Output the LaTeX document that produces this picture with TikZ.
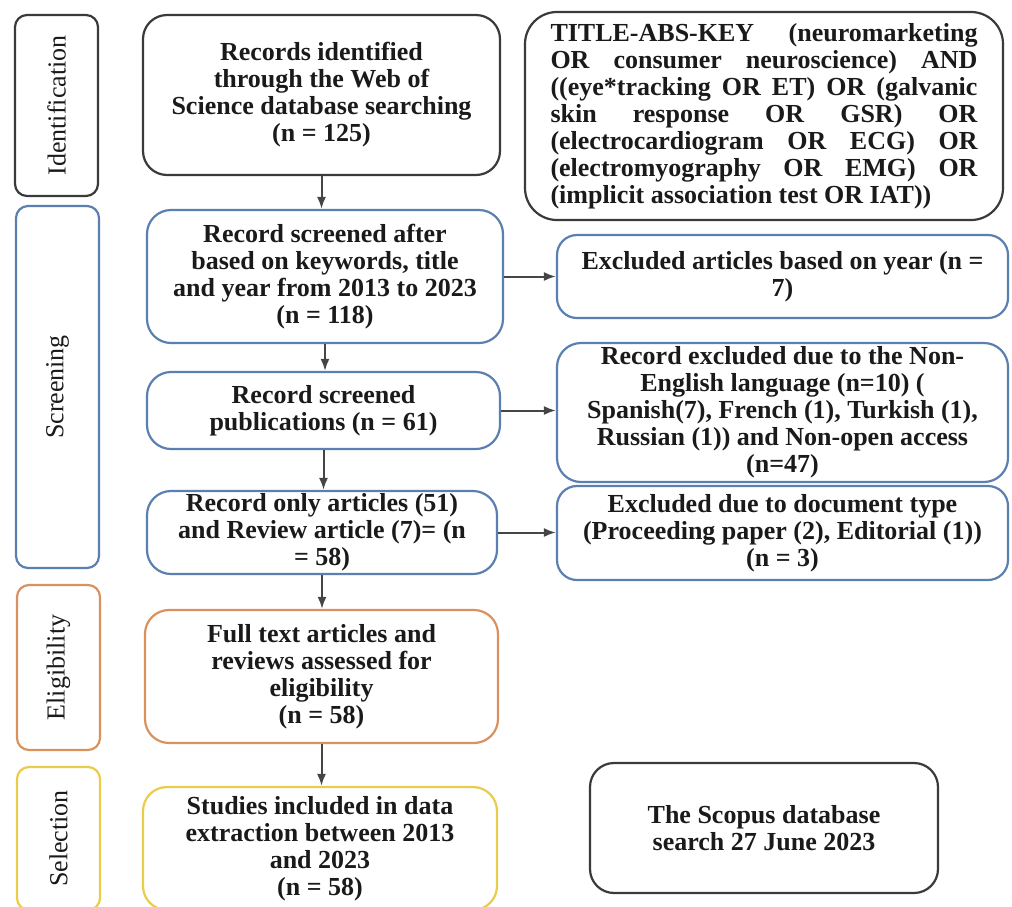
\documentclass[tikz,border=0pt]{standalone}
\usepackage{fontspec}
\setmainfont{Liberation Serif}
\usetikzlibrary{arrows.meta, positioning}

\definecolor{stageblack}{HTML}{3A3A3A}
\definecolor{stageblue}{HTML}{5B7FB0}
\definecolor{stageorange}{HTML}{D9925E}
\definecolor{stageyellow}{HTML}{E8CC4A}
\definecolor{arrowgray}{HTML}{454545}
\definecolor{txt}{HTML}{1A1A1A}

% one spread line of the query box
\newcommand{\qline}[1]{\makebox[213.5pt][s]{#1}}

\begin{document}
\begin{tikzpicture}[x=0.5pt, y=-0.5pt, >={Latex[length=6pt,width=4.5pt]},
  stage/.style={draw=#1, rounded corners=6pt, line width=1.1pt, inner sep=0pt,
    text=txt, font=\fontsize{13}{15}\selectfont},
  box/.style={draw=#1, rounded corners=12pt, line width=1.1pt, inner sep=0pt,
    align=center, text=txt, font=\bfseries\fontsize{13}{13.5}\selectfont},
  flow/.style={->, draw=arrowgray, line width=1pt}]

\useasboundingbox (0,0) rectangle (1012,906);

% stage labels on the left
\node[stage=stageblack, rotate=90, minimum width=90.5pt, minimum height=41.5pt] (lbl-id) at (56.5,105.5) {Identification};
\node[stage=stageblue, rotate=90, minimum width=181pt, minimum height=41.5pt] (lbl-scr) at (57.5,387) {Screening};
\node[stage=stageorange, rotate=90, minimum width=82.5pt, minimum height=41.5pt] (lbl-elig) at (58.5,667.5) {Eligibility};
\node[stage=stageyellow, rotate=90, minimum width=71.5pt, minimum height=41.5pt] (lbl-sel) at (58.5,838.5) {Selection};

% main column
\node[box=stageblack, minimum width=178.5pt, minimum height=80pt] (ident) at (321.5,95)
  {Records identified\\through the Web of\\Science database searching\\(n = 125)};
\node[box=stageblue, minimum width=178pt, minimum height=66.5pt] (scr1) at (325,276.5)
  {Record screened after\\based on keywords, title\\and year from 2013 to 2023\\(n = 118)};
\node[box=stageblue, minimum width=176.5pt, minimum height=38.5pt] (scr2) at (323.5,410.5)
  {Record screened\\publications (n = 61)};
\node[box=stageblue, minimum width=175pt, minimum height=41.5pt] (scr3) at (322,532.5)
  {Record only articles (51)\\and Review article (7)= (n\\= 58)};
\node[box=stageorange, minimum width=176.5pt, minimum height=66.5pt] (elig) at (321.5,676.5)
  {Full text articles and\\reviews assessed for\\eligibility\\(n = 58)};
\node[box=stageyellow, minimum width=177pt, minimum height=61.5pt] (incl) at (320,848.5)
  {Studies included in data\\extraction between 2013\\and 2023\\(n = 58)};

% right column
\node[box=stageblack, rounded corners=16pt, align=left, minimum width=239pt, minimum height=104pt] (query) at (764,116)
  {\qline{TITLE-ABS-KEY (neuromarketing}\\
   \qline{OR consumer neuroscience) AND}\\
   \qline{((eye*tracking OR ET) OR (galvanic}\\
   \qline{skin response OR GSR) OR}\\
   \qline{(electrocardiogram OR ECG) OR}\\
   \qline{(electromyography OR EMG) OR}\\
   (implicit association test OR IAT))};
\node[box=stageblue, rounded corners=10pt, minimum width=225.5pt, minimum height=41.5pt] (excl1) at (782.5,276.5)
  {Excluded articles based on year (n =\\7)};
\node[box=stageblue, minimum width=225.5pt, minimum height=69.5pt] (excl2) at (782.5,412.5)
  {Record excluded due to the Non-\\English language (n=10) (\\Spanish(7), French (1), Turkish (1),\\Russian (1)) and Non-open access\\(n=47)};
\node[box=stageblue, rounded corners=10pt, minimum width=225.5pt, minimum height=47pt] (excl3) at (782.5,533)
  {Excluded due to document type\\(Proceeding paper (2), Editorial (1))\\(n = 3)};
\node[box=stageblack, minimum width=174pt, minimum height=65pt] (scopus) at (764,828)
  {The Scopus database\\search 27 June 2023};

% arrows down the main column
\draw[flow] (ident.south) -- (ident.south |- scr1.north);
\draw[flow] (scr1.south) -- (scr1.south |- scr2.north);
\draw[flow] (scr2.south) -- (scr2.south |- scr3.north);
\draw[flow] (scr3.south) -- (scr3.south |- elig.north);
\draw[flow] (elig.south) -- (elig.south |- incl.north);

% arrows to the exclusions
\draw[flow] (scr1.east) -- (excl1.west);
\draw[flow] (scr2.east) -- (scr2.east -| excl2.west);
\draw[flow] (scr3.east) -- (scr3.east -| excl3.west);

\end{tikzpicture}
\end{document}
